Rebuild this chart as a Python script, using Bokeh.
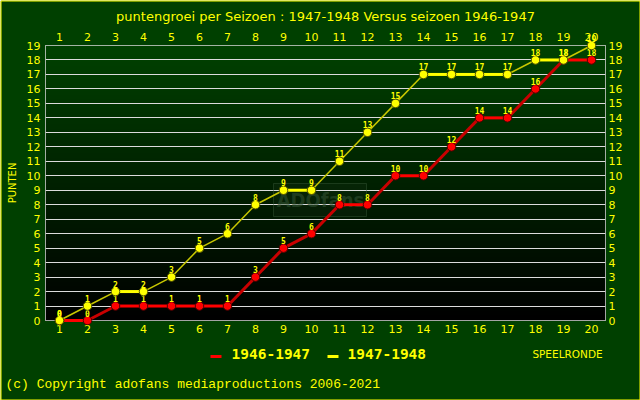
import numpy as np
from bokeh.plotting import figure
from bokeh.models import LinearAxis, FixedTicker, Range1d, ColumnDataSource, Grid
from bokeh.core.properties import value
from bokeh.embed import file_html
from bokeh.resources import INLINE

# ---------------- data ----------------
rounds = list(range(1, 21))
pts_1946_47 = [0, 0, 1, 1, 1, 1, 1, 3, 5, 6, 8, 8, 10, 10, 12, 14, 14, 16, 18, 18]
pts_1947_48 = [0, 1, 2, 2, 3, 5, 6, 8, 9, 9, 11, 13, 15, 17, 17, 17, 17, 18, 18, 19]
y_ticks = list(range(0, 20))
series_names = ["1946-1947", "1947-1948"]
title_text = "puntengroei per Seizoen : 1947-1948 Versus seizoen 1946-1947"
y_label = "PUNTEN"
x_label = "SPEELRONDE"
copyright_text = "(c) Copyright adofans mediaproductions 2006-2021"
watermark = "ADOfans"

BG = "#004000"
YEL = "#ffff00"
TICK_FONT = "DejaVu Sans"

# frame geometry (pixels) and pixel -> data helpers for decorations outside the frame
FL, FR, FT, FB = 45, 605, 45, 320
XMIN, XMAX, YMIN, YMAX = 0.5, 20.5, 0, 19
def X(px):
    return XMIN + (px - FL) * (XMAX - XMIN) / (FR - FL)
def Y(py):
    return YMIN + (FB - py) * (YMAX - YMIN) / (FB - FT)

p = figure(width=640, height=400, output_backend="svg", toolbar_location=None,
           x_range=Range1d(XMIN, XMAX), y_range=Range1d(YMIN, YMAX),
           x_axis_location=None, y_axis_location=None,
           min_border_left=FL, min_border_right=640 - FR, min_border_top=FT,
           min_border_bottom=400 - FB,
           background_fill_color="black", border_fill_color=BG,
           outline_line_color="#dcdcdc", outline_line_width=1)
p.center = [r for r in p.center if not isinstance(r, Grid)]

# title
p.title.text = title_text
p.title.text_color = YEL
p.title.text_font = "DejaVu Sans"
p.title.text_font_size = "13px"
p.title.text_font_style = "normal"
p.title.align = "center"
p.title.standoff = 11

# gradient plot background (dark green at top -> black at bottom)
N = 275
img = np.zeros((N, 1), dtype=np.uint32)
view = img.view(dtype=np.uint8).reshape((N, 1, 4))
view[:, 0, 1] = np.linspace(0, 66, N).astype(np.uint8)
view[:, 0, 3] = 255
p.image_rgba(image=[img], x=XMIN, y=YMIN, dw=XMAX - XMIN, dh=YMAX - YMIN, level="image")

# horizontal grid
p.add_layout(Grid(dimension=1, ticker=FixedTicker(ticks=y_ticks),
                  grid_line_color="#dcdcdc", grid_line_width=1))

# axes
def style_axis(ax, standoff):
    ax.axis_line_color = None
    ax.major_tick_line_color = None
    ax.minor_tick_line_color = None
    ax.major_tick_in = 0
    ax.major_tick_out = 0
    ax.major_label_text_color = YEL
    ax.major_label_text_font = TICK_FONT
    ax.major_label_text_font_size = "11px"
    ax.major_label_standoff = standoff
    return ax

p.add_layout(style_axis(LinearAxis(ticker=FixedTicker(ticks=rounds)), 4), "below")
p.add_layout(style_axis(LinearAxis(ticker=FixedTicker(ticks=rounds)), 5), "above")
left_ax = style_axis(LinearAxis(ticker=FixedTicker(ticks=y_ticks)), 5)
left_ax.axis_label = y_label
left_ax.axis_label_text_color = YEL
left_ax.axis_label_text_font = TICK_FONT
left_ax.axis_label_text_font_size = "10px"
left_ax.axis_label_text_font_style = "normal"
left_ax.axis_label_standoff = 6
p.add_layout(left_ax, "left")
p.add_layout(style_axis(LinearAxis(ticker=FixedTicker(ticks=y_ticks)), 3), "right")

# watermark (faint)
p.text([X(320)], [Y(199)], text=[watermark], text_color="#2c4c2c", text_alpha=0.6,
       text_font=value("DejaVu Sans Condensed"), text_font_style="bold",
       text_font_size="20px", text_align="center", text_baseline="middle")
p.quad(left=[X(273)], right=[X(366)], top=[Y(183)], bottom=[Y(216)],
       fill_color="#ffffff", fill_alpha=0.025, line_color="#3a5a3a", line_alpha=0.45)

# series
def draw_series(vals, flat_color, rise_color, flat_w, rise_w, marker_fill, marker_line):
    x0, x1, y0, y1 = rounds[:-1], rounds[1:], vals[:-1], vals[1:]
    flat = [i for i in range(len(x0)) if y0[i] == y1[i]]
    rise = [i for i in range(len(x0)) if y0[i] != y1[i]]
    for idx, col, w in ((rise, rise_color, rise_w), (flat, flat_color, flat_w)):
        src = ColumnDataSource(dict(x0=[x0[i] for i in idx], x1=[x1[i] for i in idx],
                                    y0=[y0[i] for i in idx], y1=[y1[i] for i in idx]))
        p.segment(x0="x0", y0="y0", x1="x1", y1="y1", source=src,
                  line_color=col, line_width=w, level="overlay")
    p.scatter(rounds, vals, size=8.5, fill_color=marker_fill, line_color=marker_line,
              line_width=1, level="overlay")
    p.text(rounds, vals, text=[str(v) for v in vals], text_color=YEL,
           text_font=value("DejaVu Sans Mono"), text_font_style="bold",
           text_font_size="8px", text_align="center", text_baseline="bottom",
           y_offset=-4, level="overlay")

draw_series(pts_1946_47, "#ff0000", "#c80000", 3, 3, "#ff0000", "#500000")
draw_series(pts_1947_48, "#ffff00", "#c8c800", 3, 1.5, "#ffff00", "#505000")

# legend (drawn unclipped below the frame, styled like the reference)
legend_x = [(210, 221, 231), (327, 338, 347)]
for name, col, lc, (gx0, gx1, tx) in zip(series_names, ["#ff0000", "#ffff00"],
                                        ["#500000", "#505000"], legend_x):
    p.segment(x0=[X(gx0)], x1=[X(gx1)], y0=[Y(356)], y1=[Y(356)],
              line_color=col, line_width=3, level="overlay")
    p.scatter([X((gx0 + gx1) / 2)], [Y(356)], size=4, fill_color=col, line_color=lc,
              level="overlay")
    p.text([X(tx)], [Y(353)], text=[name], text_color=YEL,
           text_font=value("DejaVu Sans Mono"), text_font_style="bold",
           text_font_size="14.5px", text_align="left", text_baseline="middle",
           level="overlay")

# texts outside the frame (drawn unclipped at overlay level)
p.text([X(567)], [Y(353)], text=[x_label], text_color=YEL,
       text_font=value("DejaVu Sans"), text_font_size="10.5px",
       text_align="center", text_baseline="middle", level="overlay")
p.text([X(5)], [Y(384)], text=[copyright_text], text_color=YEL,
       text_font=value("Liberation Mono"), text_font_size="13px",
       text_align="left", text_baseline="middle", level="overlay")

# yellow canvas border
p.quad(left=[X(0.5)], right=[X(639.5)], top=[Y(0.5)], bottom=[Y(399.5)],
       fill_alpha=0, line_color=YEL, line_width=1, level="overlay")

open("out.html", "w").write(file_html(p, INLINE))
